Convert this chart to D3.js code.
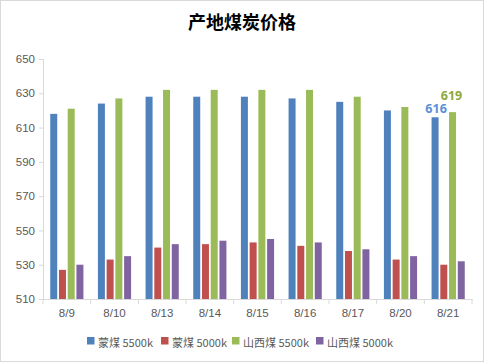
<!DOCTYPE html>
<html>
<head>
<meta charset="utf-8">
<script src="https://cdn.jsdelivr.net/npm/d3@7.9.0/dist/d3.min.js"></script>
<style>
  body { margin: 0; background: #fff; }
  svg { display: block; font-family: "Noto Sans", "Noto Sans CJK SC", sans-serif; }
</style>
</head>
<body>
<svg id="chart" width="484" height="362"></svg>
<script>
const dates = ['8/9', '8/10', '8/13', '8/14', '8/15', '8/16', '8/17', '8/20', '8/21'];
const seriesNames = ['蒙煤 5500k', '蒙煤 5000k', '山西煤 5500k', '山西煤 5000k'];
const mengMei5500 = [618, 624, 628, 628, 628, 627, 625, 620, 616];
const mengMei5000 = [527, 533, 540, 542, 543, 541, 538, 533, 530];
const shanxi5500 = [621, 627, 632, 632, 632, 632, 628, 622, 619];
const shanxi5000 = [530, 535, 542, 544, 545, 543, 539, 535, 532];
const yTicks = [510, 530, 550, 570, 590, 610, 630, 650];
const colors = ['#4f81bd', '#c0504d', '#9bbb59', '#8064a2'];

const allSeries = [mengMei5500, mengMei5000, shanxi5500, shanxi5000];

const svg = d3.select('#chart');
const width = 484, height = 362;
const margin = { top: 59, right: 12, bottom: 63, left: 43 };

// outer frame
svg.append('rect')
    .attr('x', 0.5).attr('y', 0.5)
    .attr('width', width - 1).attr('height', height - 1)
    .attr('fill', '#fff')
    .attr('stroke', '#d9d9d9');

svg.append('text')
    .attr('x', 242).attr('y', 29)
    .attr('text-anchor', 'middle')
    .attr('font-family', '"Noto Sans CJK SC", sans-serif')
    .attr('font-size', 18)
    .attr('font-weight', 'bold')
    .attr('fill', '#000')
    .text('产地煤炭价格');

const x0 = d3.scaleBand()
    .domain(dates)
    .range([margin.left, width - margin.right])
    .padding(0);

const x1 = d3.scaleBand()
    .domain(d3.range(seriesNames.length))
    .range([0, x0.bandwidth()])
    .paddingInner(0.2)
    .paddingOuter(0.83);

const y = d3.scaleLinear()
    .domain([510, 650])
    .range([height - margin.bottom, margin.top]);

// y axis
const yAxis = svg.append('g')
    .attr('transform', `translate(${margin.left},0)`)
    .call(d3.axisLeft(y).tickValues(yTicks).tickSize(4).tickPadding(4));
yAxis.select('.domain').attr('stroke', '#d9d9d9');
yAxis.selectAll('.tick line').attr('stroke', '#d9d9d9');
yAxis.selectAll('.tick text')
    .attr('fill', '#595959')
    .attr('font-size', 11.5);

// x axis
const xAxis = svg.append('g')
    .attr('transform', `translate(0,${height - margin.bottom})`)
    .call(d3.axisBottom(x0).tickSize(0).tickPadding(10));
xAxis.select('.domain').attr('stroke', '#d9d9d9');
xAxis.selectAll('.tick text')
    .attr('fill', '#595959')
    .attr('font-size', 11.5);

// category separators
xAxis.selectAll('.sep')
    .data(d3.range(dates.length + 1))
    .join('line')
    .attr('class', 'sep')
    .attr('x1', i => margin.left + i * x0.step())
    .attr('x2', i => margin.left + i * x0.step())
    .attr('y1', 0).attr('y2', 5)
    .attr('stroke', '#d9d9d9');

// bars
const groups = svg.append('g')
    .selectAll('g')
    .data(dates)
    .join('g')
    .attr('transform', d => `translate(${x0(d)},0)`);

groups.selectAll('rect')
    .data((d, i) => allSeries.map((s, k) => ({ k, value: s[i] })))
    .join('rect')
    .attr('x', d => x1(d.k))
    .attr('width', x1.bandwidth())
    .attr('y', d => y(d.value))
    .attr('height', d => y(510) - y(d.value))
    .attr('fill', d => colors[d.k]);

// data labels on last category
const last = dates.length - 1;
const labels = [
    { k: 0, value: mengMei5500[last], color: '#5b8fd6', dy: -4, dx: 1 },
    { k: 2, value: shanxi5500[last], color: '#8fa83a', dy: -12, dx: -1 }
];
svg.selectAll('.dlabel')
    .data(labels)
    .join('text')
    .attr('class', 'dlabel')
    .attr('x', d => x0(dates[last]) + x1(d.k) + x1.bandwidth() / 2 + d.dx)
    .attr('y', d => y(d.value) + d.dy)
    .attr('text-anchor', 'middle')
    .attr('font-size', 12.5)
    .attr('font-weight', 'bold')
    .attr('fill', d => d.color)
    .text(d => d.value);

// legend
const legend = svg.append('g').attr('transform', 'translate(0,342)');
const legendX = [87, 161, 232, 316];
const item = legend.selectAll('g')
    .data(seriesNames)
    .join('g')
    .attr('transform', (d, i) => `translate(${legendX[i]},0)`);
item.append('rect')
    .attr('x', 0).attr('y', -5)
    .attr('width', 7.5).attr('height', 7.5)
    .attr('fill', (d, i) => colors[i]);
item.append('text')
    .attr('x', 11).attr('y', 2.5)
    .attr('dominant-baseline', 'middle')
    .attr('font-family', '"Noto Sans CJK SC", sans-serif')
    .attr('font-size', 11)
    .attr('fill', '#595959')
    .attr('dy', '-0.05em')
    .text(d => d);
</script>
</body>
</html>
